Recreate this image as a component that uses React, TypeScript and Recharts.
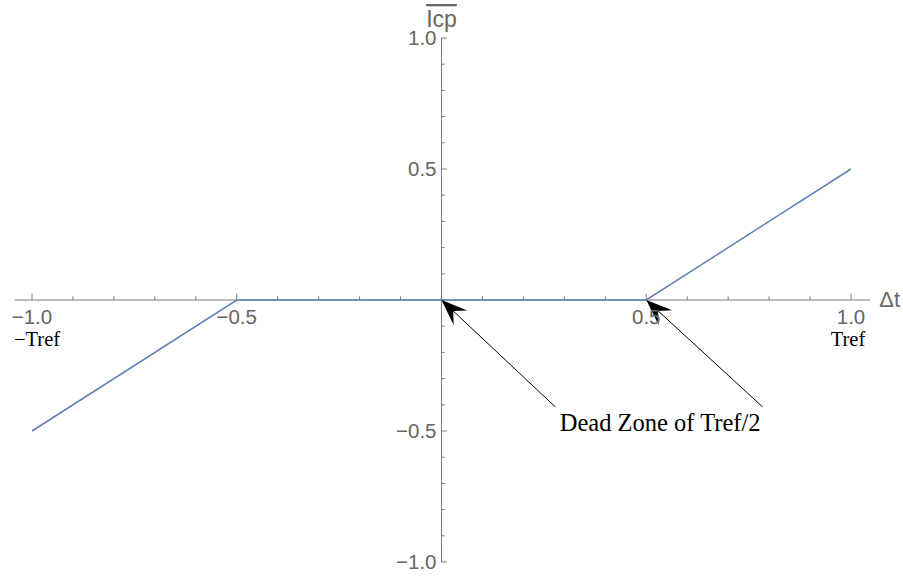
import React from "react";
import { LineChart, Line, XAxis, YAxis, ReferenceLine, ReferenceDot } from "recharts";

// piecewise transfer curve: dead zone between -0.5 and 0.5
const dtValues = [-1, -0.5, 0.5, 1];
const icpValues = [-0.5, 0, 0, 0.5];

const xMajor = [-1, -0.5, 0.5, 1];
const xMajorLabels = ["\u22121.0", "\u22120.5", "0.5", "1.0"];
const xMinor = [-0.9, -0.8, -0.7, -0.6, -0.4, -0.3, -0.2, -0.1, 0.1, 0.2, 0.3, 0.4, 0.6, 0.7, 0.8, 0.9];
const yMajor = [-1, -0.5, 0.5, 1];
const yMajorLabels = ["\u22121.0", "\u22120.5", "0.5", "1.0"];
const yMinor = [-0.9, -0.8, -0.7, -0.6, -0.4, -0.3, -0.2, -0.1, 0.1, 0.2, 0.3, 0.4, 0.6, 0.7, 0.8, 0.9];

const refLabels = [
  { x: -1, text: "\u2212Tref" },
  { x: 1, text: "Tref" },
];

const arrowTargets = [0, 0.5];
const arrowTail = [
  { x: 0.278, y: -0.408 },
  { x: 0.784, y: -0.408 },
];
const noteAt = { x: 0.534, y: -0.466 };
const noteText = "Dead Zone of Tref/2";

const xAxisExtent = [-1.042, 1.047];
const yAxisExtent = [-1, 1];

const data = dtValues.map((x, i) => ({ x, y: icpValues[i] }));

const AXIS = "#7a7a7a";
const TICK_TEXT = "#666666";
const SANS = "'Liberation Sans', Arial, sans-serif";
const SERIF = "'Liberation Serif', 'Times New Roman', serif";

const Arrow = (p: any) => {
  const { x1, y1, x2, y2 } = p;
  const dx = x1 - x2;
  const dy = y1 - y2;
  const len = Math.sqrt(dx * dx + dy * dy) || 1;
  const ux = dx / len;
  const uy = dy / len;
  const nx = -uy;
  const ny = ux;
  const L = 26;
  const W = 10;
  const pts = [
    [x2, y2],
    [x2 + ux * L + nx * W, y2 + uy * L + ny * W],
    [x2 + ux * L * 0.62, y2 + uy * L * 0.62],
    [x2 + ux * L - nx * W, y2 + uy * L - ny * W],
  ];
  return (
    <g>
      <line x1={x1} y1={y1} x2={x2 + ux * L * 0.6} y2={y2 + uy * L * 0.6} stroke="#000" strokeWidth={1} />
      <polygon points={pts.map((q) => q.join(",")).join(" ")} fill="#000" />
    </g>
  );
};

const textDot = (text: string, opts: any) => (p: any) => (
  <text
    x={p.cx + (opts.dx || 0)}
    y={p.cy + (opts.dy || 0)}
    textAnchor={opts.anchor || "middle"}
    fontFamily={opts.family || SANS}
    fontSize={opts.size || 20.5}
    fill={opts.fill || TICK_TEXT}
    style={opts.style}
  >
    {text}
  </text>
);

export default function App() {
  return (
    <div style={{ position: "absolute", left: 0, top: 0, background: "#fff" }}>
      <LineChart
        width={903}
        height={578}
        data={data}
        margin={{ top: 38, right: 52, left: 32, bottom: 16 }}
      >
        <XAxis dataKey="x" type="number" domain={[-1, 1]} hide allowDataOverflow />
        <YAxis type="number" domain={[-1, 1]} hide allowDataOverflow />

        {/* axes through the origin */}
        <ReferenceLine
          segment={[{ x: xAxisExtent[0], y: 0 }, { x: xAxisExtent[1], y: 0 }]}
          stroke={AXIS}
          ifOverflow="visible"
        />
        <ReferenceLine
          segment={[{ x: 0, y: yAxisExtent[0] }, { x: 0, y: yAxisExtent[1] }]}
          stroke={AXIS}
          ifOverflow="visible"
        />

        {xMajor.map((v) => (
          <ReferenceLine key={"xM" + v} segment={[{ x: v, y: 0 }, { x: v, y: 0.024 }]} stroke={AXIS} ifOverflow="visible" />
        ))}
        {xMinor.map((v) => (
          <ReferenceLine key={"xm" + v} segment={[{ x: v, y: 0 }, { x: v, y: 0.014 }]} stroke={AXIS} ifOverflow="visible" />
        ))}
        {yMajor.map((v) => (
          <ReferenceLine key={"yM" + v} segment={[{ x: 0, y: v }, { x: 0.013, y: v }]} stroke={AXIS} ifOverflow="visible" />
        ))}
        {yMinor.map((v) => (
          <ReferenceLine key={"ym" + v} segment={[{ x: 0, y: v }, { x: 0.008, y: v }]} stroke={AXIS} ifOverflow="visible" />
        ))}

        <Line
          type="linear"
          dataKey="y"
          stroke="#5E81B5"
          strokeWidth={1.5}
          dot={false}
          activeDot={false}
          isAnimationActive={false}
        />

        {xMajor.map((v, i) => (
          <ReferenceDot key={"xl" + v} x={v} y={0} r={0} ifOverflow="visible" shape={textDot(xMajorLabels[i], { dy: 24 })} />
        ))}
        {yMajor.map((v, i) => (
          <ReferenceDot key={"yl" + v} x={0} y={v} r={0} ifOverflow="visible" shape={textDot(yMajorLabels[i], { dx: -5, dy: 7, anchor: "end" })} />
        ))}
        {refLabels.map((r) => (
          <ReferenceDot
            key={"rl" + r.x}
            x={r.x}
            y={0}
            r={0}
            ifOverflow="visible"
            shape={textDot(r.text, { dx: r.x < 0 ? 5 : -3, dy: 46, family: SERIF, size: 20.5, fill: "#000" })}
          />
        ))}

        <ReferenceDot
          x={xAxisExtent[1]}
          y={0}
          r={0}
          ifOverflow="visible"
          shape={textDot("\u0394t", { dx: 9, dy: 7, anchor: "start", size: 22 })}
        />
        <ReferenceDot
          x={0}
          y={1}
          r={0}
          ifOverflow="visible"
          shape={textDot("Icp", { dy: -11, size: 23, style: { textDecoration: "overline" } })}
        />

        {arrowTargets.map((t, i) => (
          <ReferenceLine
            key={"ar" + t}
            segment={[arrowTail[i], { x: t, y: 0 }]}
            ifOverflow="visible"
            shape={Arrow}
          />
        ))}
        <ReferenceDot
          x={noteAt.x}
          y={noteAt.y}
          r={0}
          ifOverflow="visible"
          shape={textDot(noteText, { dy: 9, family: SERIF, size: 24.5, fill: "#000" })}
        />
      </LineChart>
    </div>
  );
}
